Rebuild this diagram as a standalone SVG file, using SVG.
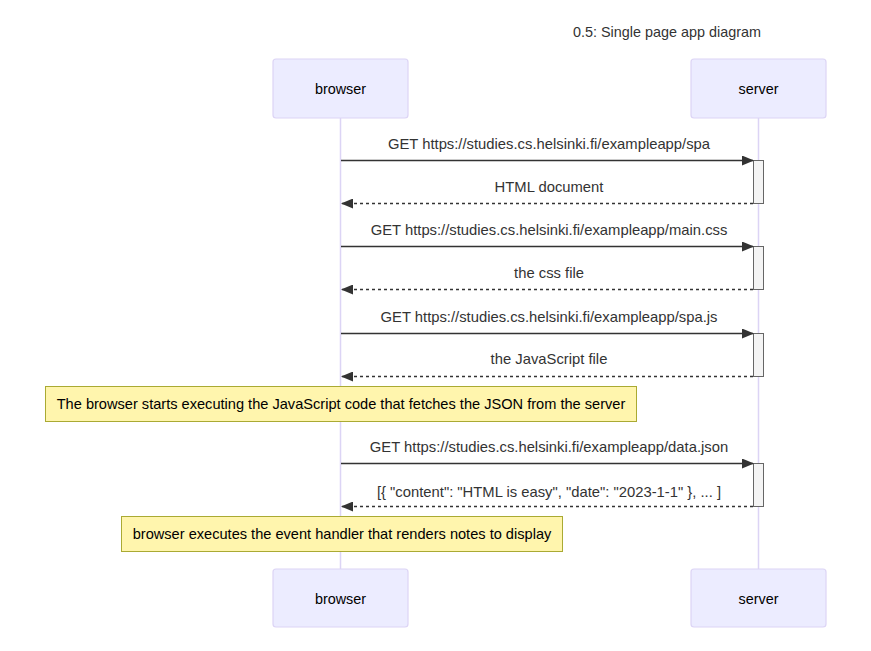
<svg xmlns="http://www.w3.org/2000/svg" width="871" height="651" viewBox="0 0 871 651">
<style>
.actor{fill:#ECECFF;stroke:#DCD4F5;stroke-width:1.2}
.atext{font-family:"Liberation Sans",Arial,sans-serif;font-size:14.4px;fill:#000;text-anchor:middle;dominant-baseline:central}
.life{stroke:#DCD4F5;stroke-width:1.5}
.msg{stroke:#333;stroke-width:1.4;fill:none}
.dash{stroke-dasharray:3,3}
.mtext{font-family:"Liberation Sans",Arial,sans-serif;font-size:14.8px;fill:#333;text-anchor:middle}
.act{fill:#F4F4F4;stroke:#666;stroke-width:1}
.note{fill:#FFF5AD;stroke:#AAAA33;stroke-width:1}
.ntext{font-family:"Liberation Sans",Arial,sans-serif;font-size:14.6px;fill:#000;text-anchor:middle;dominant-baseline:central}
.title{font-family:"Liberation Sans",Arial,sans-serif;font-size:14.4px;fill:#333;text-anchor:middle}
</style>
<defs>
<marker id="arrow" viewBox="0 0 12 10" refX="11" refY="5" markerWidth="12" markerHeight="10" markerUnits="userSpaceOnUse" orient="auto">
<path d="M0,0 L12,5 L0,10 z" fill="#333"/>
</marker>
</defs>
<rect width="871" height="651" fill="#fff"/>
<text class="title" x="667" y="37">0.5: Single page app diagram</text>
<g id="lifelines">
<line class="life" x1="340.5" y1="118" x2="340.5" y2="569"/>
<line class="life" x1="758.5" y1="118" x2="758.5" y2="569"/>
</g>
<g id="browser">
<rect class="actor" x="273" y="59" width="135" height="59" rx="3"/>
<text class="atext" x="340.5" y="88.5">browser</text>
</g>
<g id="server">
<rect class="actor" x="691" y="59" width="135" height="59" rx="3"/>
<text class="atext" x="758.5" y="88.5">server</text>
</g>
<g id="browser-bottom">
<rect class="actor" x="273" y="569" width="135" height="58" rx="3"/>
<text class="atext" x="340.5" y="598.5">browser</text>
</g>
<g id="server-bottom">
<rect class="actor" x="691" y="569" width="135" height="58" rx="3"/>
<text class="atext" x="758.5" y="598.5">server</text>
</g>
<g id="activations">
<rect class="act" x="753.5" y="160.5" width="10" height="43"/>
<rect class="act" x="753.5" y="246.5" width="10" height="43"/>
<rect class="act" x="753.5" y="333.5" width="10" height="43"/>
<rect class="act" x="753.5" y="463.5" width="10" height="43"/>
</g>
<g id="connectors">
<line class="msg" x1="341" y1="160.5" x2="753" y2="160.5" marker-end="url(#arrow)"/>
<line class="msg dash" x1="753" y1="203.5" x2="342" y2="203.5" marker-end="url(#arrow)"/>
<line class="msg" x1="341" y1="246.5" x2="753" y2="246.5" marker-end="url(#arrow)"/>
<line class="msg dash" x1="753" y1="289.5" x2="342" y2="289.5" marker-end="url(#arrow)"/>
<line class="msg" x1="341" y1="333.5" x2="753" y2="333.5" marker-end="url(#arrow)"/>
<line class="msg dash" x1="753" y1="376.5" x2="342" y2="376.5" marker-end="url(#arrow)"/>
<line class="msg" x1="341" y1="463.5" x2="753" y2="463.5" marker-end="url(#arrow)"/>
<line class="msg dash" x1="753" y1="506.5" x2="342" y2="506.5" marker-end="url(#arrow)"/>
</g>
<g id="labels">
<text class="mtext" x="549" y="149">GET https://studies.cs.helsinki.fi/exampleapp/spa</text>
<text class="mtext" x="549" y="192">HTML document</text>
<text class="mtext" x="549" y="235">GET https://studies.cs.helsinki.fi/exampleapp/main.css</text>
<text class="mtext" x="549" y="278">the css file</text>
<text class="mtext" x="549" y="322">GET https://studies.cs.helsinki.fi/exampleapp/spa.js</text>
<text class="mtext" x="549" y="364">the JavaScript file</text>
<text class="mtext" x="549" y="452">GET https://studies.cs.helsinki.fi/exampleapp/data.json</text>
<text class="mtext" x="549" y="497">[{ "content": "HTML is easy", "date": "2023-1-1" }, ... ]</text>
</g>
<g id="note1">
<rect class="note" x="45.5" y="386.5" width="591" height="35"/>
<text class="ntext" x="341" y="404">The browser starts executing the JavaScript code that fetches the JSON from the server</text>
</g>
<g id="note2">
<rect class="note" x="121.5" y="516.5" width="441" height="35"/>
<text class="ntext" x="342" y="534">browser executes the event handler that renders notes to display</text>
</g>
</svg>
